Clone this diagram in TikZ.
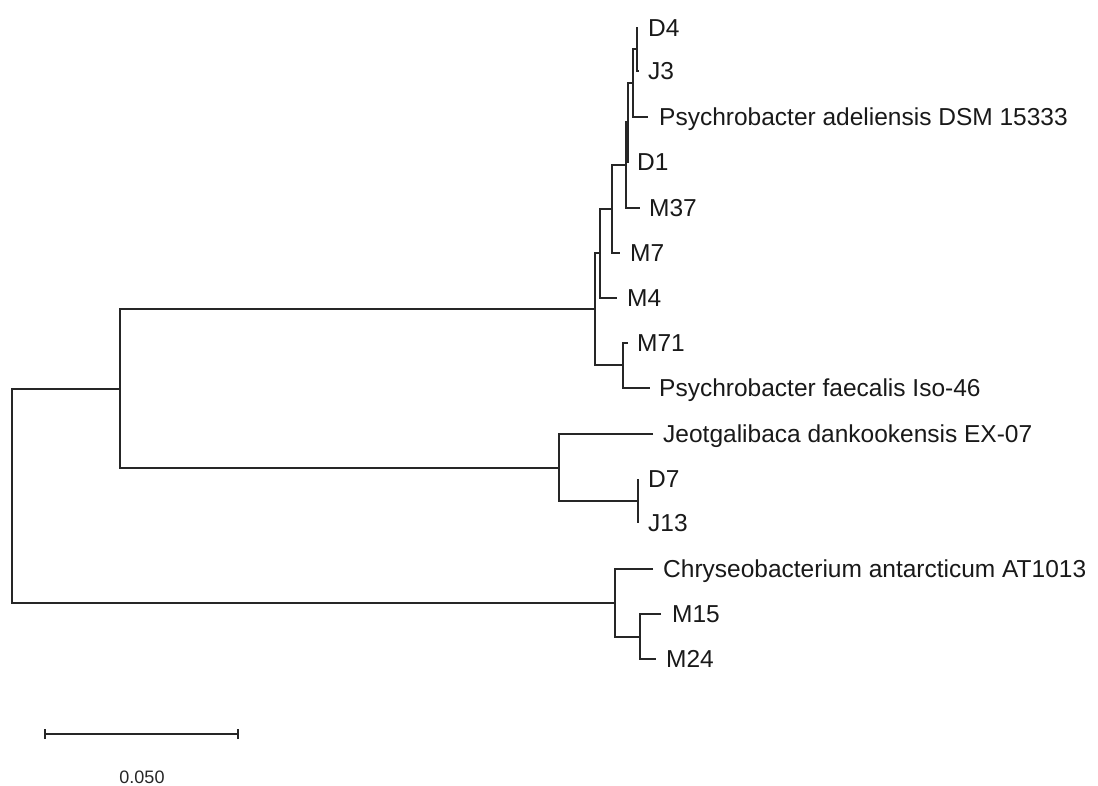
\documentclass[tikz,border=0pt]{standalone}
\usepackage{fontspec}
\setmainfont{Liberation Sans}
\usetikzlibrary{positioning}

\tikzset{
    branch/.style={line width=2pt, black!85},
    taxon/.style={anchor=west, inner sep=0pt, font=\fontsize{24.5}{28}\selectfont,
                  text height=17.5pt, text depth=0pt, black!90},
}
\newcommand{\drawclade}[3]{\draw[branch] (#2) -| (#1) |- (#3);}

\begin{document}
\begin{tikzpicture}[x=1pt, y=-1pt]

    \useasboundingbox (0,0) rectangle (1098,786);

    % Tips, x
    \coordinate (d4)   at (638, 28);
    \coordinate (j3)   at (639, 71);
    \coordinate (psya) at (648,117);
    \coordinate (d1)   at (629,162);
    \coordinate (m37)  at (640,208);
    \coordinate (m7)   at (620,253);
    \coordinate (m4)   at (617,298);
    \coordinate (m71)  at (628,343);
    \coordinate (psyf) at (650,388);
    \coordinate (jeo)  at (653,434);
    \coordinate (d7)   at (638,479);
    \coordinate (j13)  at (638,523);
    \coordinate (chry) at (653,569);
    \coordinate (m15)  at (661,614);
    \coordinate (m24)  at (656,659);

    % Inner nodes
    \coordinate (n1)   at (637, 49.5);
    \coordinate (n2)   at (633, 83);
    \coordinate (n3)   at (628,122.5);
    \coordinate (n4)   at (626,165);
    \coordinate (n5)   at (612,209);
    \coordinate (n6)   at (600,253.5);
    \coordinate (n8)   at (623,365.5);
    \coordinate (n7)   at (595,309.5);
    \coordinate (n10)  at (638,501);
    \coordinate (n9)   at (559,467.5);
    \coordinate (n11)  at (120,388.5);
    \coordinate (n13)  at (640,636.5);
    \coordinate (n12)  at (615,602.75);
    \coordinate (root) at ( 12,495.6);

    % Branches
    \drawclade{n1}{d4}{j3}
    \drawclade{n2}{n1}{psya}
    \drawclade{n3}{n2}{d1}
    \drawclade{n4}{n3}{m37}
    \drawclade{n5}{n4}{m7}
    \drawclade{n6}{n5}{m4}
    \drawclade{n8}{m71}{psyf}
    \drawclade{n7}{n6}{n8}
    \drawclade{n10}{d7}{j13}
    \drawclade{n9}{jeo}{n10}
    \drawclade{n11}{n7}{n9}
    \drawclade{n13}{m15}{m24}
    \drawclade{n12}{chry}{n13}
    \drawclade{root}{n11}{n12}

    % Labels
    \node[taxon, right=10pt of d4]   (ld4)   {D4};
    \node[taxon, right=9pt of j3]    (lj3)   {J3};
    \node[taxon, right=11pt of psya] (lpsya) {Psychrobacter adeliensis DSM 15333};
    \node[taxon, right=8pt of d1]    (ld1)   {D1};
    \node[taxon, right=9pt of m37]   (lm37)  {M37};
    \node[taxon, right=10pt of m7]   (lm7)   {M7};
    \node[taxon, right=10pt of m4]   (lm4)   {M4};
    \node[taxon, right=9pt of m71]   (lm71)  {M71};
    \node[taxon, right=9pt of psyf]  (lpsyf) {Psychrobacter faecalis Iso-46};
    \node[taxon, right=10pt of jeo]  (ljeo)  {Jeotgalibaca dankookensis EX-07};
    \node[taxon, right=10pt of d7]   (ld7)   {D7};
    \node[taxon, right=10pt of j13]  (lj13)  {J13};
    \node[taxon, right=10pt of chry] (lchry) {Chryseobacterium antarcticum AT1013};
    \node[taxon, right=11pt of m15]  (lm15)  {M15};
    \node[taxon, right=10pt of m24]  (lm24)  {M24};

    % Scale bar
    \coordinate (sb1) at ( 45,734);
    \coordinate (sb2) at (238,734);
    \draw[branch] (sb1) -- (sb2);
    \draw[branch] ([yshift=-5pt]sb1) -- ([yshift=5pt]sb1);
    \draw[branch] ([yshift=-5pt]sb2) -- ([yshift=5pt]sb2);
    \node[font=\fontsize{18}{20}\selectfont, inner sep=0pt, black!85] (sbl) at (142,777) {0.050};

\end{tikzpicture}
\end{document}
